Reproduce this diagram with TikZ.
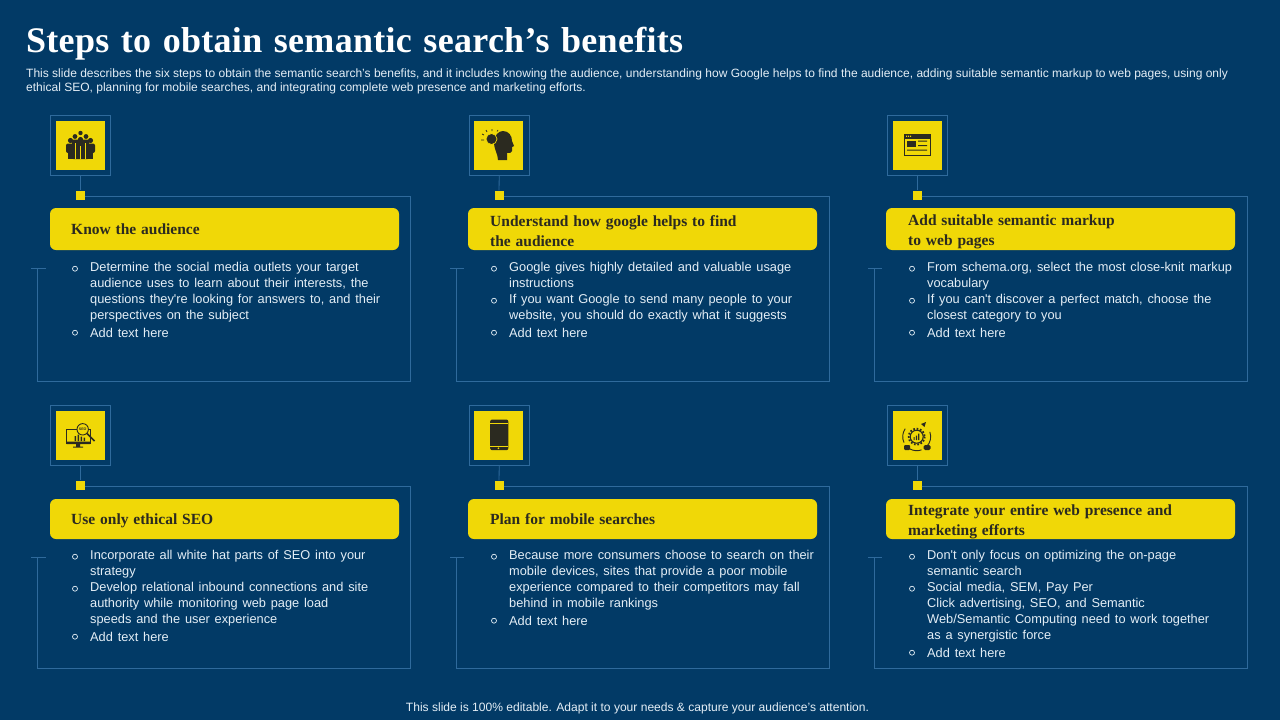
\documentclass[tikz,border=0pt]{standalone}
\usepackage{fontspec}
\setmainfont{Liberation Sans}
\newfontfamily\bodyfont[WordSpace=1.35]{Liberation Sans}
\newfontfamily\titlefont[LetterSpace=0.8,WordSpace=1.25]{Liberation Serif}
\newfontfamily\headfont[WordSpace=1.25]{Liberation Serif}
\usetikzlibrary{calc}
\definecolor{slidebg}{HTML}{023A66}
\definecolor{stepyellow}{HTML}{F0D807}
\definecolor{panelblue}{HTML}{2F6A9C}
\definecolor{icondark}{HTML}{2B2A20}
\definecolor{bodywhite}{HTML}{E4EEF6}
\tikzset{
    iconframe/.style={draw=panelblue, line width=0.8pt, fill=none, minimum size=60pt, inner sep=0},
    iconbox/.style={fill=stepyellow, minimum size=49pt, inner sep=0},
    jointdot/.style={fill=stepyellow, minimum size=9pt, inner sep=0},
    panelline/.style={draw=panelblue, line width=0.8pt},
    headbar/.style={fill=stepyellow, rounded corners=6pt, minimum width=349pt, inner sep=0},
    headtext/.style={anchor=north west, inner sep=0, align=left, text=icondark, font=\headfont\bfseries\fontsize{15.5}{20}\selectfont, execute at begin node=\strut},
    bodytext/.style={anchor=north west, inner sep=0, align=left, text=bodywhite, font=\bodyfont\fontsize{12.8}{16}\selectfont, execute at begin node=\strut},
    bulletmark/.style={circle, draw=bodywhite, line width=0.7pt, minimum size=5pt, inner sep=0},
}
\begin{document}
\begin{tikzpicture}[x=1pt, y=-1pt]
    \fill[slidebg] (0, 0) rectangle (1280, 720);
    \useasboundingbox (0, 0) rectangle (1280, 720);

    \node (title) [anchor=west, inner sep=0, text=white, font=\titlefont\bfseries\fontsize{36}{40}\selectfont] at (26, 44) {Steps to obtain semantic search’s benefits};
    \node (intro) [anchor=north west, inner sep=0, align=left, text=bodywhite, font=\fontsize{12.02}{14}\selectfont] at (26, 69) {This slide describes the six steps to obtain the semantic search’s benefits, and it includes knowing the audience, understanding how Google helps to find the audience, adding suitable semantic markup to web pages, using only\\ethical SEO, planning for mobile searches, and integrating complete web presence and marketing efforts.};
    \node (footer) [inner sep=0, text=bodywhite, font=\fontsize{12.05}{14}\selectfont] at (637.5, 708) {This slide is 100\% editable. Adapt it to your needs \& capture your audience’s attention.};

    % first row
    \begin{scope}[name prefix=know-]
    \node (frame) [iconframe] at (80.5, 145.5) {};
    \node (icon) [iconbox] at (80.5, 145.5) {};
    \node (dot) [jointdot] at (80.5, 195) {};
    \node (bar) [headbar, minimum height=42pt] at (224.5, 229) {};
    \coordinate (ne) at (410.5, 196);
    \coordinate (se) at (410.5, 381);
    \coordinate (sw) at (37.5, 381);
    \coordinate (nw) at (37.5, 268);
    \coordinate (tick) at (31, 268);
    \coordinate (tock) at (46, 268);
    \draw[panelline] (frame) -- (dot);
    \draw[panelline] (dot.east |- ne) -- (ne) -- (se) -- (sw) -- (nw);
    \draw[panelline] (tick) -- (tock);
    \node (head) [headtext] at (71, 220) {Know the audience};
    \node (b1) [bulletmark] at (75, 268.7) {};
    \node (t1) [bodytext] at (90, 262) {Determine the social media outlets your target\\audience uses to learn about their interests, the\\questions they're looking for answers to, and their\\perspectives on the subject};
    \node (b2) [bulletmark] at (75, 332.7) {};
    \node (t2) [bodytext] at (90, 326) {Add text here};
    % people
    \foreach \px/\py/\pw in {80.5/133/2.2, 75/136.5/2.4, 86/136.5/2.4, 70.5/140.5/2.6, 90.5/140.5/2.6, 80.5/139.5/2.6} {
        \fill[icondark] (\px, \py) circle (\pw);
    }
    \fill[icondark, rounded corners=1.5pt] (72, 139.5) rectangle (89, 159);
    \fill[icondark, rounded corners=2pt] (66, 143.5) rectangle (75, 153);
    \fill[icondark, rounded corners=2pt] (86, 143.5) rectangle (95, 153);
    \fill[icondark] (68, 150) rectangle (73.5, 159);
    \fill[icondark] (87.5, 150) rectangle (93, 159);
    \draw[stepyellow, line width=0.3pt] (75.5, 143) -- (75.5, 159) (85.5, 143) -- (85.5, 159) (80.5, 146) -- (80.5, 159);
    \end{scope}

    \begin{scope}[name prefix=google-]
    \node (frame) [iconframe] at (499.5, 145.5) {};
    \node (icon) [iconbox] at (498.5, 145.5) {};
    \node (dot) [jointdot] at (499, 195) {};
    \node (bar) [headbar, minimum height=42pt] at (642.5, 229) {};
    \coordinate (ne) at (829.5, 196);
    \coordinate (se) at (829.5, 381);
    \coordinate (sw) at (456.5, 381);
    \coordinate (nw) at (456.5, 268);
    \coordinate (tick) at (450, 268);
    \coordinate (tock) at (464, 268);
    \draw[panelline] (frame) -- (dot);
    \draw[panelline] (dot.east |- ne) -- (ne) -- (se) -- (sw) -- (nw);
    \draw[panelline] (tick) -- (tock);
    \node (head) [headtext] at (490, 215) {Understand how google helps to find\\the audience};
    \node (b1) [bulletmark] at (494, 268.7) {};
    \node (t1) [bodytext] at (509, 262) {Google gives highly detailed and valuable usage\\instructions};
    \node (b2) [bulletmark] at (494, 300.7) {};
    \node (t2) [bodytext] at (509, 294) {If you want Google to send many people to your\\website, you should do exactly what it suggests};
    \node (b3) [bulletmark] at (494, 332.7) {};
    \node (t3) [bodytext] at (509, 326) {Add text here};
    % head and bulb
    \fill[icondark] (498, 160) .. controls (498, 154) and (494, 150) .. (494, 142) .. controls (494, 135) and (499, 131) .. (503, 131) .. controls (509, 131) and (512, 136) .. (512, 141) -- (514, 146) -- (512, 147) -- (512, 151) .. controls (512, 153) and (509, 153) .. (507, 153) -- (507, 160) -- cycle;
    \draw[fill=icondark, draw=stepyellow, line width=0.7pt] (491.5, 139) circle (5.5);
    \draw[icondark, line width=0.7pt] (484, 135) -- (482, 134) (484, 140) -- (481, 140) (487, 132) -- (486, 130) (492, 131) -- (492, 129) (497, 131.5) -- (498, 130);
    \end{scope}

    \begin{scope}[name prefix=markup-]
    \node (frame) [iconframe] at (917, 145.5) {};
    \node (icon) [iconbox] at (917, 145.5) {};
    \node (dot) [jointdot] at (917, 195) {};
    \node (bar) [headbar, minimum height=42pt] at (1060.5, 229) {};
    \coordinate (ne) at (1247.5, 196);
    \coordinate (se) at (1247.5, 381);
    \coordinate (sw) at (874.5, 381);
    \coordinate (nw) at (874.5, 268);
    \coordinate (tick) at (868, 268);
    \coordinate (tock) at (882, 268);
    \draw[panelline] (frame) -- (dot);
    \draw[panelline] (dot.east |- ne) -- (ne) -- (se) -- (sw) -- (nw);
    \draw[panelline] (tick) -- (tock);
    \node (head) [headtext] at (908, 215) {Add suitable semantic markup\\to web pages};
    \node (b1) [bulletmark] at (912, 268.7) {};
    \node (t1) [bodytext] at (927, 262) {From schema.org, select the most close-knit markup\\vocabulary};
    \node (b2) [bulletmark] at (912, 300.7) {};
    \node (t2) [bodytext] at (927, 294) {If you can't discover a perfect match, choose the\\closest category to you};
    \node (b3) [bulletmark] at (912, 332.7) {};
    \node (t3) [bodytext] at (927, 326) {Add text here};
    % browser window
    \draw[icondark, line width=1pt] (904, 134.5) rectangle (930, 155.5);
    \fill[icondark] (904, 134.5) rectangle (930, 138.5);
    \fill[stepyellow] (906, 135.7) rectangle (907, 136.9) (908, 135.7) rectangle (909, 136.9) (910, 135.7) rectangle (911, 136.9);
    \fill[icondark] (907, 141) rectangle (916, 146.5);
    \fill[icondark] (918, 140.5) rectangle (927, 141.5) (918, 145) rectangle (927, 146) (907, 149.5) rectangle (927, 150.5);
    \end{scope}

    % second row
    \begin{scope}[name prefix=seo-]
    \node (frame) [iconframe] at (80.5, 435.5) {};
    \node (icon) [iconbox] at (80.5, 435.5) {};
    \node (dot) [jointdot] at (80.5, 485) {};
    \node (bar) [headbar, minimum height=40pt] at (224.5, 519) {};
    \coordinate (ne) at (410.5, 486);
    \coordinate (se) at (410.5, 668);
    \coordinate (sw) at (37.5, 668);
    \coordinate (nw) at (37.5, 557);
    \coordinate (tick) at (31, 557);
    \coordinate (tock) at (46, 557);
    \draw[panelline] (frame) -- (dot);
    \draw[panelline] (dot.east |- ne) -- (ne) -- (se) -- (sw) -- (nw);
    \draw[panelline] (tick) -- (tock);
    \node (head) [headtext] at (71, 510) {Use only ethical SEO};
    \node (b1) [bulletmark] at (75, 556.7) {};
    \node (t1) [bodytext] at (90, 550) {Incorporate all white hat parts of SEO into your\\strategy};
    \node (b2) [bulletmark] at (75, 588.7) {};
    \node (t2) [bodytext] at (90, 582) {Develop relational inbound connections and site\\authority while monitoring web page load\\speeds and the user experience};
    \node (b3) [bulletmark] at (75, 636.7) {};
    \node (t3) [bodytext] at (90, 630) {Add text here};
    % monitor and lens
    \draw[icondark, line width=0.9pt] (66.5, 429) rectangle (90, 443);
    \fill[icondark] (66.5, 441.5) rectangle (90, 444) (76, 444) rectangle (80, 446.5) (73, 446.5) rectangle (83, 447.5);
    \fill[icondark] (74.5, 436) rectangle (76, 441) (77.5, 434.5) rectangle (79, 441) (80.5, 436.5) rectangle (82, 441) (83.5, 437.5) rectangle (85, 441);
    \draw[fill=stepyellow, draw=icondark, line width=0.9pt] (82.7, 429.3) circle (5.7);
    \draw[icondark, line width=1.6pt] (87, 433.5) -- (94.5, 441);
    \node (lens) [inner sep=0, text=icondark, font=\bfseries\fontsize{3.6}{4}\selectfont] at (82.7, 429.3) {SEO};
    \end{scope}

    \begin{scope}[name prefix=mobile-]
    \node (frame) [iconframe] at (499.5, 435.5) {};
    \node (icon) [iconbox] at (498.5, 435.5) {};
    \node (dot) [jointdot] at (499, 485) {};
    \node (bar) [headbar, minimum height=40pt] at (642.5, 519) {};
    \coordinate (ne) at (829.5, 486);
    \coordinate (se) at (829.5, 668);
    \coordinate (sw) at (456.5, 668);
    \coordinate (nw) at (456.5, 557);
    \coordinate (tick) at (450, 557);
    \coordinate (tock) at (464, 557);
    \draw[panelline] (frame) -- (dot);
    \draw[panelline] (dot.east |- ne) -- (ne) -- (se) -- (sw) -- (nw);
    \draw[panelline] (tick) -- (tock);
    \node (head) [headtext] at (490, 510) {Plan for mobile searches};
    \node (b1) [bulletmark] at (494, 556.7) {};
    \node (t1) [bodytext] at (509, 550) {Because more consumers choose to search on their\\mobile devices, sites that provide a poor mobile\\experience compared to their competitors may fall\\behind in mobile rankings};
    \node (b2) [bulletmark] at (494, 620.7) {};
    \node (t2) [bodytext] at (509, 614) {Add text here};
    % phone
    \fill[icondark, rounded corners=2pt] (490.2, 419.5) rectangle (508.3, 450.2);
    \draw[stepyellow, line width=0.2pt] (490.2, 423) -- (508.3, 423) (490.2, 446.5) -- (508.3, 446.5);
    \fill[stepyellow] (498.4, 448.3) circle (0.9);
    \end{scope}

    \begin{scope}[name prefix=presence-]
    \node (frame) [iconframe] at (917, 435.5) {};
    \node (icon) [iconbox] at (917, 435.5) {};
    \node (dot) [jointdot] at (917, 485) {};
    \node (bar) [headbar, minimum height=40pt] at (1060.5, 519) {};
    \coordinate (ne) at (1247.5, 486);
    \coordinate (se) at (1247.5, 668);
    \coordinate (sw) at (874.5, 668);
    \coordinate (nw) at (874.5, 557);
    \coordinate (tick) at (868, 557);
    \coordinate (tock) at (882, 557);
    \draw[panelline] (frame) -- (dot);
    \draw[panelline] (dot.east |- ne) -- (ne) -- (se) -- (sw) -- (nw);
    \draw[panelline] (tick) -- (tock);
    \node (head) [headtext] at (908, 505) {Integrate your entire web presence and\\marketing efforts};
    \node (b1) [bulletmark] at (912, 556.7) {};
    \node (t1) [bodytext] at (927, 550) {Don't only focus on optimizing the on-page\\semantic search};
    \node (b2) [bulletmark] at (912, 588.7) {};
    \node (t2) [bodytext] at (927, 582) {Social media, SEM, Pay Per\\Click advertising, SEO, and Semantic\\Web/Semantic Computing need to work together\\as a synergistic force};
    \node (b3) [bulletmark] at (912, 652.7) {};
    \node (t3) [bodytext] at (927, 646) {Add text here};
    % ring and gear
    \draw[icondark, line width=0.9pt] (916.7, 436.7) ++(-20:14) arc (-20:45:14);
    \draw[icondark, line width=0.9pt] (916.7, 436.7) ++(70:14) arc (70:120:14);
    \draw[icondark, line width=0.9pt] (916.7, 436.7) ++(155:14) arc (155:215:14);
    \draw[icondark, line width=1.1pt] (916.7, 436.7) circle (6.5);
    \draw[icondark, line width=1.8pt, dash pattern=on 1.7pt off 1.7pt] (916.7, 436.7) circle (8);
    \fill[icondark] (913.5, 437) rectangle (914.7, 440) (915.8, 435.5) rectangle (917, 440) (918.1, 433.5) rectangle (919.3, 440);
    \fill[icondark] (921, 424) -- (926, 422) -- (924.5, 427) -- cycle;
    \fill[icondark, rounded corners=1pt] (904, 445) rectangle (910, 450);
    \fill[icondark, rounded corners=1.5pt] (923.5, 445) rectangle (930.5, 450);
    \end{scope}
\end{tikzpicture}
\end{document}
